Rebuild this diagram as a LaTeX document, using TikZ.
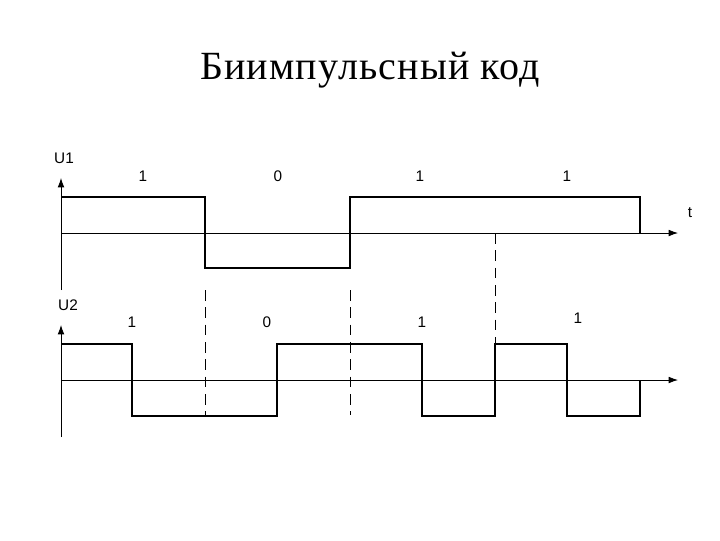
\documentclass[tikz,border=0pt]{standalone}
\usepackage{fontspec}
\usetikzlibrary{arrows.meta}
\setmainfont{Liberation Serif}
\newfontfamily\lsans{Liberation Sans}
\begin{document}
\begin{tikzpicture}[x=0.75pt,y=-0.75pt,
  sig/.style={line width=1.8pt},
  ax/.style={line width=0.6pt,-{Latex[length=7pt,width=5pt]}},
  dsh/.style={line width=0.6pt,dash pattern=on 8pt off 5pt},
  lbl/.style={font=\lsans\fontsize{11.5}{13}\selectfont}]
\useasboundingbox (0,0) rectangle (720,540);
\node (title) at (370,70) {\fontsize{30}{36}\selectfont\addfontfeature{LetterSpace=3} Биимпульсный код};
% U1
\coordinate (a1b) at (61,290); \coordinate (a1t) at (61,178);
\coordinate (h1l) at (61,233); \coordinate (h1r) at (678,233);
\draw[ax] (a1b) -- (a1t);
\draw[ax] (h1l) -- (h1r);
\node[lbl] (u1) at (64,158) {U1};
\node[lbl] (t) at (690,213) {t};
\draw[sig] (61,197) -- (205,197) -- (205,268) -- (350,268) -- (350,197) -- (640,197) -- (640,233);
\node[lbl] (b1) at (143,176) {1};
\node[lbl] (b2) at (278,176) {0};
\node[lbl] (b3) at (420,176) {1};
\node[lbl] (b4) at (567,176) {1};
% dashed
\draw[dsh] (205,290) -- (205,415);
\draw[dsh] (350,290) -- (350,415);
\draw[dsh] (495,233) -- (495,415);
% U2
\coordinate (a2b) at (61,437); \coordinate (a2t) at (61,325);
\coordinate (h2l) at (61,380); \coordinate (h2r) at (678,380);
\draw[ax] (a2b) -- (a2t);
\draw[ax] (h2l) -- (h2r);
\node[lbl] (u2) at (68,305) {U2};
\draw[sig] (61,344) -- (132,344) -- (132,416) -- (277,416) -- (277,344) -- (422,344) -- (422,416) -- (495,416) -- (495,344) -- (567,344) -- (567,416) -- (640,416) -- (640,380);
\node[lbl] (c1) at (132,322) {1};
\node[lbl] (c2) at (267,322) {0};
\node[lbl] (c3) at (422,322) {1};
\node[lbl] (c4) at (578,318) {1};
\end{tikzpicture}
\end{document}
